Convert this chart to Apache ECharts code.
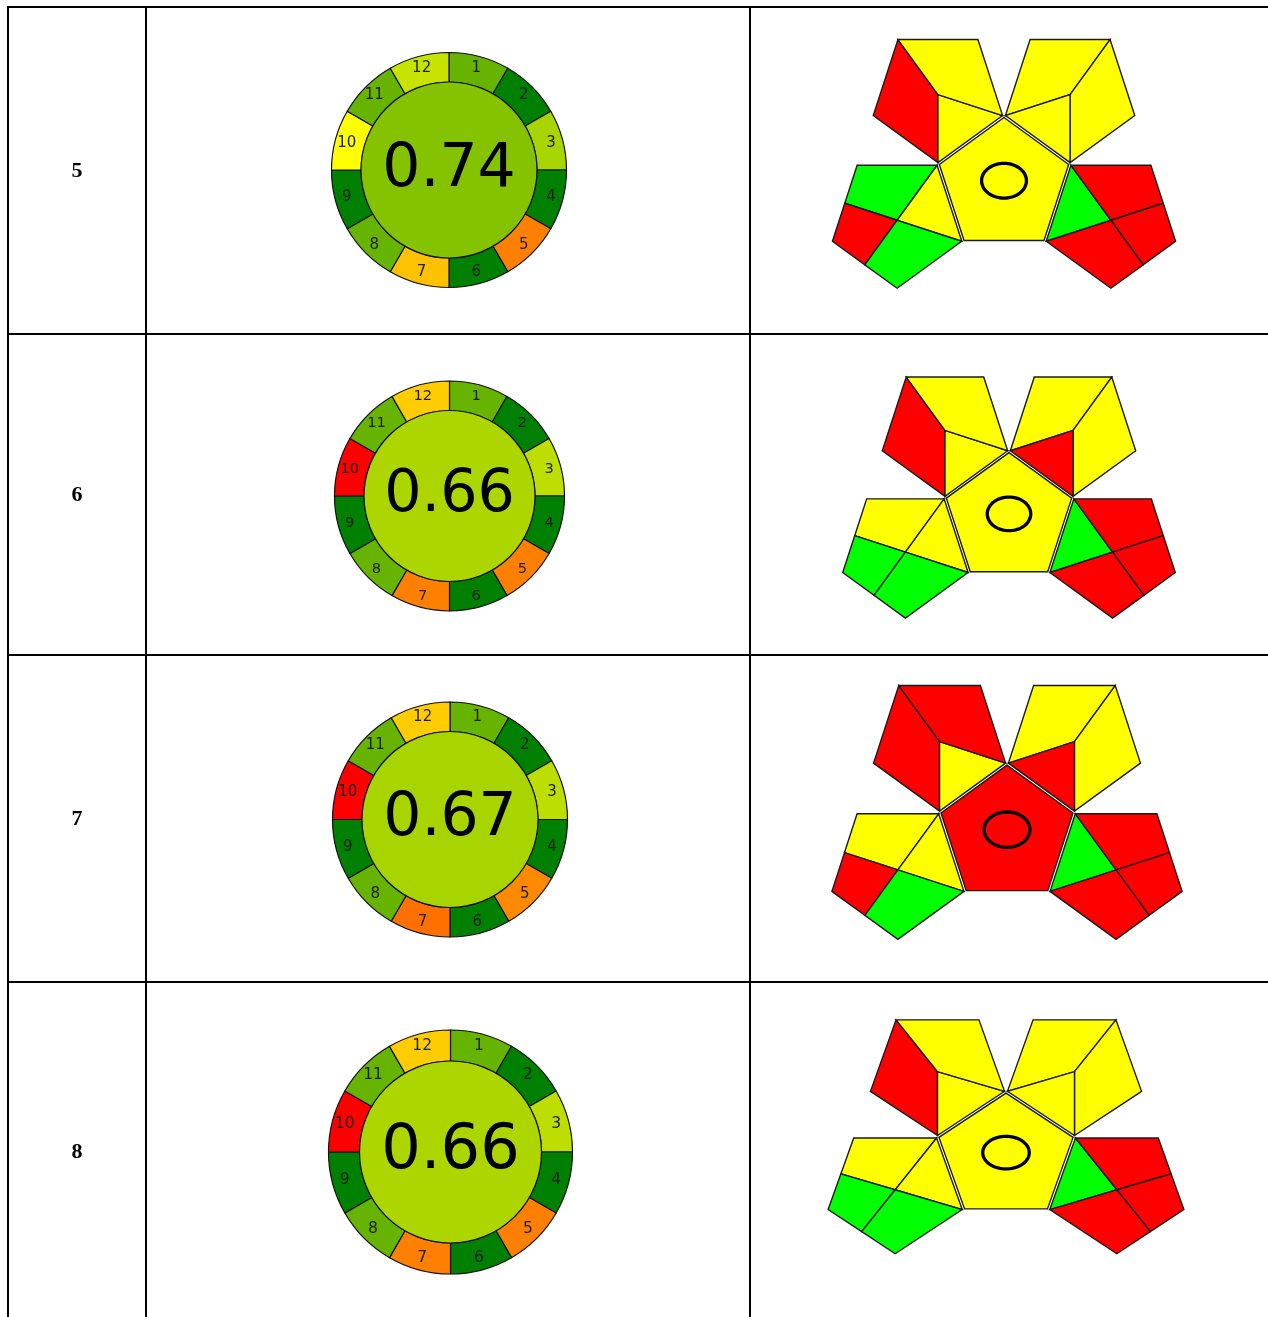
<!DOCTYPE html>
<html>
<head>
<meta charset="utf-8">
<script src="https://cdn.jsdelivr.net/npm/echarts@6/dist/echarts.min.js"></script>
<style>
  html, body { margin: 0; padding: 0; background: #fff; }
  #chart { width: 1268px; height: 1317px; }
</style>
</head>
<body>
<div id="chart"></div>
<script>
// ---- Table rows (method numbers) ----
const rowLabels = ['5', '6', '7', '8'];

// ---- AGREE: overall scores and the 12 criterion scores ----
const agreeCriteria = ['1', '2', '3', '4', '5', '6', '7', '8', '9', '10', '11', '12'];
const agreeWeights  = [1, 1, 1, 1, 1, 1, 1, 1, 1, 1, 1, 1];
const agreeTotal = [0.74, 0.66, 0.67, 0.66];
const agreeRow5 = [0.8, 1, 0.67, 1, 0.25, 1, 0.38, 0.8, 1, 0.5, 0.8, 0.61];
const agreeRow6 = [0.8, 1, 0.63, 1, 0.25, 1, 0.25, 0.8, 1, 0,   0.8, 0.4];
const agreeRow7 = [0.8, 1, 0.63, 1, 0.27, 1, 0.22, 0.8, 1, 0,   0.8, 0.4];
const agreeRow8 = [0.8, 1, 0.63, 1, 0.25, 1, 0.25, 0.8, 1, 0,   0.8, 0.4];
const agreeRows = [agreeRow5, agreeRow6, agreeRow7, agreeRow8];

// ---- GAPI: rating of each field (G = green, Y = yellow, R = red) ----
// field order: upper-left (left, inner, top), upper-right (top, right, inner),
// lower-left (top, inner, left, bottom), lower-right (inner, top, right, bottom), centre
const gapiRow5 = ['R','Y','Y', 'Y','Y','Y', 'G','Y','R','G', 'G','R','R','R', 'Y'];
const gapiRow6 = ['R','Y','Y', 'Y','Y','R', 'Y','Y','G','G', 'G','R','R','R', 'Y'];
const gapiRow7 = ['R','Y','R', 'Y','Y','R', 'Y','Y','R','G', 'G','R','R','R', 'R'];
const gapiRow8 = ['R','Y','Y', 'Y','Y','Y', 'Y','Y','G','G', 'G','R','R','R', 'Y'];
const gapiRows = [gapiRow5, gapiRow6, gapiRow7, gapiRow8];

// ---- Layout (pixels) ----
const tableLines = {
  xs: [8, 146, 750],
  ys: [7, 334, 655, 982],
  right: 1268, bottom: 1317
};
const labelX = 77;
const rowLayout = [
  { labelY: 171,  agree: { cx: 449,   cy: 170,   r0: 88,   r1: 117.5 }, gapi: { cx: 1004, cy: 185.5,  R: 68 } },
  { labelY: 495,  agree: { cx: 449.5, cy: 496,   r0: 85.5, r1: 115 },   gapi: { cx: 1009, cy: 518.5,  R: 65.9 } },
  { labelY: 819,  agree: { cx: 450,   cy: 819.5, r0: 88,   r1: 117.5 }, gapi: { cx: 1007, cy: 834.5,  R: 69.4 } },
  { labelY: 1152, agree: { cx: 450.5, cy: 1152,  r0: 91,   r1: 122 },   gapi: { cx: 1006, cy: 1173.5, R: 70.5 } }
];

// AGREE colour scale: 0 red -> 0.5 yellow -> 1 green
function agreeColor(s) {
  let r, g;
  if (s <= 0.5) { const t = s / 0.5; r = 255; g = 255 * t; }
  else { const t = (s - 0.5) / 0.5; r = 255 * (1 - t); g = 255 - 127 * t; }
  return 'rgb(' + Math.round(r) + ',' + Math.round(g) + ',0)';
}
const gapiColor = { G: '#00ff00', Y: '#ffff00', R: '#ff0000' };

// ---- GAPI geometry in unit space (central pentagon circumradius = 1) ----
const deg = Math.PI / 180;
const V = [0, 1, 2, 3, 4].map(i => [Math.cos((90 + 72 * i) * deg), Math.sin((90 + 72 * i) * deg)]);
const GAP = 0.035;
function mid(p, q) { return [(p[0] + q[0]) / 2, (p[1] + q[1]) / 2]; }
// pentagon mirrored across the edge V[a]-V[b], pushed slightly outward
function outer(a, b) {
  const c = [V[a][0] + V[b][0], V[a][1] + V[b][1]];
  const L = Math.hypot(c[0], c[1]);
  const sh = [GAP * c[0] / L, GAP * c[1] / L];
  return {
    c: [c[0] + sh[0], c[1] + sh[1]],
    w: V.map(v => [c[0] - v[0] + sh[0], c[1] - v[1] + sh[1]])
  };
}
const TL = outer(0, 1), TR = outer(0, 4), LL = outer(1, 2), LR = outer(3, 4);
const Ma = mid(LL.w[4], LL.w[0]), Mb = mid(LL.w[3], LL.w[4]);
const Na = mid(LR.w[1], LR.w[0]), Nb = mid(LR.w[2], LR.w[1]);
const gapiRegions = [
  [TL.c, TL.w[3], TL.w[4], TL.w[0]],
  [TL.c, TL.w[0], TL.w[1]],
  [TL.c, TL.w[1], TL.w[2], TL.w[3]],
  [TR.c, TR.w[4], TR.w[3], TR.w[2]],
  [TR.c, TR.w[2], TR.w[1], TR.w[0]],
  [TR.c, TR.w[0], TR.w[4]],
  [LL.w[2], LL.w[3], Mb, LL.c],
  [LL.w[2], LL.c, LL.w[1]],
  [Mb, LL.w[4], Ma, LL.c],
  [LL.c, Ma, LL.w[0], LL.w[1]],
  [LR.w[3], LR.c, LR.w[4]],
  [LR.w[3], LR.w[2], Nb, LR.c],
  [LR.c, Nb, LR.w[1], Na],
  [LR.w[4], LR.c, Na, LR.w[0]],
  V
];
const ellipsePts = [];
for (let k = 0; k < 72; k++) {
  const t = k * 5 * deg;
  ellipsePts.push([0.33 * Math.cos(t), 0.07 + 0.255 * Math.sin(t)]);
}

// ---- Build option ----
const grids = [], xAxes = [], yAxes = [], series = [], graphics = [];

rowLayout.forEach((lay, i) => {
  // AGREE ring
  const a = lay.agree;
  const k = a.r1 / 117.5;
  series.push({
    type: 'pie', silent: true, animation: false,
    center: [a.cx, a.cy], radius: [a.r0, a.r1],
    startAngle: 90, clockwise: true,
    itemStyle: { borderColor: '#111', borderWidth: 1.2 },
    label: {
      show: true, position: 'inside', formatter: '{b}',
      fontFamily: 'DejaVu Sans', fontSize: 15 * k, color: '#1e1e1e'
    },
    labelLine: { show: false },
    data: agreeCriteria.map((c, j) => ({
      name: c, value: agreeWeights[j],
      itemStyle: { color: agreeColor(agreeRows[i][j]) }
    }))
  });
  // AGREE centre score
  series.push({
    type: 'pie', silent: true, animation: false,
    center: [a.cx, a.cy], radius: [0, a.r0],
    itemStyle: { borderColor: '#111', borderWidth: 1.2 },
    label: {
      show: true, position: 'center',
      formatter: () => agreeTotal[i].toFixed(2),
      fontFamily: 'DejaVu Sans', fontSize: 60 * k, color: '#000'
    },
    labelLine: { show: false },
    data: [{ name: 'score', value: agreeTotal[i], itemStyle: { color: agreeColor(agreeTotal[i]) } }]
  });

  // GAPI pictogram on a hidden, equally scaled cartesian grid
  const g = lay.gapi;
  grids.push({ left: g.cx - 3 * g.R, top: g.cy - 2.5 * g.R, width: 6 * g.R, height: 5 * g.R });
  xAxes.push({ type: 'value', gridIndex: i, min: -3, max: 3, show: false });
  yAxes.push({ type: 'value', gridIndex: i, min: -2.5, max: 2.5, show: false });
  const ratings = gapiRows[i];
  series.push({
    type: 'custom', silent: true, animation: false, clip: false,
    xAxisIndex: i, yAxisIndex: i,
    encode: { x: 0, y: 1 },
    data: ratings.map((r, j) => [0, 0, j]),
    renderItem: function (params, api) {
      const idx = api.value(2);
      const pts = gapiRegions[idx].map(p => api.coord(p));
      const children = [{
        type: 'polygon', shape: { points: pts },
        style: { fill: gapiColor[ratings[idx]], stroke: '#1a1a1a', lineWidth: 1.4, lineJoin: 'miter' }
      }];
      if (idx === 14) {
        children.push({
          type: 'polygon', shape: { points: ellipsePts.map(p => api.coord(p)) },
          style: { fill: 'none', stroke: '#000', lineWidth: 3.3 }
        });
      }
      return { type: 'group', children: children };
    }
  });

  // row number
  graphics.push({
    type: 'text', x: labelX, y: lay.labelY,
    style: {
      text: rowLabels[i], fill: '#000',
      font: 'bold 22px "Liberation Serif", "Times New Roman", serif',
      textAlign: 'center', textVerticalAlign: 'middle'
    }
  });
});

// table rules
tableLines.xs.forEach(x => graphics.push({
  type: 'line', shape: { x1: x, y1: tableLines.ys[0] - 1, x2: x, y2: tableLines.bottom },
  style: { stroke: '#000', lineWidth: 2 }
}));
tableLines.ys.forEach(y => graphics.push({
  type: 'line', shape: { x1: tableLines.xs[0] - 1, y1: y, x2: tableLines.right, y2: y },
  style: { stroke: '#000', lineWidth: 2 }
}));

const chart = echarts.init(document.getElementById('chart'), null, { renderer: 'canvas' });
chart.setOption({
  animation: false,
  backgroundColor: '#fff',
  grid: grids, xAxis: xAxes, yAxis: yAxes,
  series: series,
  graphic: graphics
});
</script>
</body>
</html>
